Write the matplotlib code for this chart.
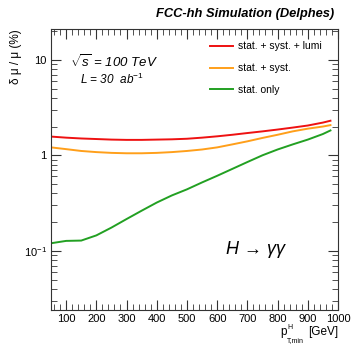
import numpy as np
import matplotlib
matplotlib.use('Agg')
import matplotlib.pyplot as plt
from matplotlib.ticker import MultipleLocator, LogLocator, NullFormatter, FixedFormatter, FixedLocator

plt.rcParams['font.family'] = ['Liberation Sans', 'DejaVu Sans']
plt.rcParams['mathtext.fontset'] = 'custom'
plt.rcParams['mathtext.rm'] = 'Liberation Sans'
plt.rcParams['mathtext.it'] = 'Liberation Sans:italic'

# pT,min of the Higgs [GeV]
pt_min = [50, 100, 150, 200, 250, 300, 350, 400, 450, 500, 550, 600, 650,
          700, 750, 800, 850, 900, 950, 975]
# relative precision on mu [%]
stat_syst_lumi = [1.57, 1.53, 1.50, 1.48, 1.46, 1.45, 1.45, 1.46, 1.47, 1.49,
                  1.53, 1.58, 1.64, 1.71, 1.78, 1.86, 1.95, 2.05, 2.20, 2.30]
stat_syst = [1.21, 1.16, 1.11, 1.08, 1.06, 1.05, 1.05, 1.06, 1.08, 1.11,
             1.15, 1.21, 1.30, 1.40, 1.52, 1.64, 1.78, 1.90, 2.00, 2.07]
stat_only = [0.120, 0.127, 0.128, 0.145, 0.175, 0.215, 0.263, 0.32, 0.38, 0.44,
             0.52, 0.61, 0.72, 0.85, 1.00, 1.15, 1.30, 1.46, 1.67, 1.82]

fig = plt.figure(figsize=(3.53, 3.44), dpi=100)
ax = fig.add_axes([0.1445, 0.0988, 0.813, 0.8169])

ax.plot(pt_min, stat_syst_lumi, color='#ee1111', lw=1.4, label='stat. + syst. + lumi')
ax.plot(pt_min, stat_syst, color='#ff9f1a', lw=1.4, label='stat. + syst.')
ax.plot(pt_min, stat_only, color='#22a022', lw=1.4, label='stat. only')

ax.set_yscale('log')
ax.set_xlim(50, 1000)
ax.set_ylim(0.024, 21)

ax.xaxis.set_major_locator(MultipleLocator(100))
ax.xaxis.set_minor_locator(MultipleLocator(20))
ax.yaxis.set_major_locator(FixedLocator([0.1, 1, 10]))
ax.yaxis.set_major_formatter(FixedFormatter(['$10^{-1}$', '1', '10']))
ax.yaxis.set_minor_locator(LogLocator(base=10, subs=np.arange(2, 10)))
ax.yaxis.set_minor_formatter(NullFormatter())

ax.tick_params(which='both', direction='in', top=True, right=True,
               labelsize=8, color='#333333', pad=3)
ax.tick_params(which='major', length=7, width=0.8)
ax.tick_params(which='minor', length=4, width=0.6)
for s in ax.spines.values():
    s.set_linewidth(0.8)
    s.set_color('#333333')

leg = ax.legend(loc='upper left', bbox_to_anchor=(0.52, 0.99), frameon=False,
                fontsize=7.5, handlelength=2.2, handletextpad=0.5,
                labelspacing=1.15)

ax.text(0.065, 0.885, r'$\sqrt{s}$ = 100 TeV', transform=ax.transAxes,
        fontsize=9.5, style='italic', va='center')
ax.text(0.10, 0.82, r'L = 30  ab$^{-1}$', transform=ax.transAxes,
        fontsize=8.5, style='italic', va='center')
ax.text(0.61, 0.215, 'H → γγ', transform=ax.transAxes,
        fontsize=13, style='italic', va='center')

fig.text(0.947, 0.958, 'FCC-hh Simulation (Delphes)', ha='right', va='center',
         fontsize=9.3, fontweight='bold', style='italic')
fig.text(0.045, 0.915, 'δ μ / μ (%)', rotation=90, ha='center',
         va='top', fontsize=8.5)

# x axis title built from pieces so it stays clear of the tick labels
fig.text(0.957, 0.025, '[GeV]', ha='right', va='baseline', fontsize=8.5)
fig.text(0.795, 0.025, 'p', ha='left', va='baseline', fontsize=8.5)
fig.text(0.815, 0.044, 'H', ha='left', va='baseline', fontsize=5)
fig.text(0.813, 0.007, 'T,min', ha='left', va='baseline', fontsize=5)

fig.savefig('out.png', dpi=100)
